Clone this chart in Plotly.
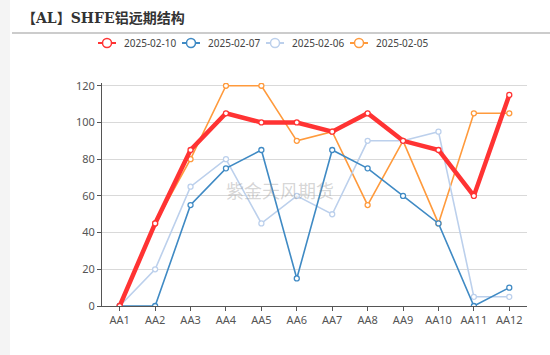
import plotly.graph_objects as go

categories = ["AA1", "AA2", "AA3", "AA4", "AA5", "AA6", "AA7", "AA8", "AA9", "AA10", "AA11", "AA12"]
s_0210 = [0, 45, 85, 105, 100, 100, 95, 105, 90, 85, 60, 115]
s_0207 = [0, 0, 55, 75, 85, 15, 85, 75, 60, 45, 0, 10]
s_0206 = [0, 20, 65, 80, 45, 60, 50, 90, 90, 95, 5, 5]
s_0205 = [0, 45, 80, 120, 120, 90, 95, 55, 90, 45, 105, 105]
y_ticks = [0, 20, 40, 60, 80, 100, 120]

W, H = 550, 355
L, R, T, B = 102, 23, 83, 49
pw, ph = W - L - R, H - T - B

def px(x):
    return (x - L) / pw

def py(y):
    return (H - B - y) / ph

fig = go.Figure()
series = [
    ("2025-02-05", s_0205, "#ff9a3c", 1.6),
    ("2025-02-06", s_0206, "#bcd0ec", 1.6),
    ("2025-02-07", s_0207, "#3f8ac4", 1.6),
    ("2025-02-10", s_0210, "#ff3333", 4.5),
]
for name, vals, color, w in series:
    fig.add_trace(go.Scatter(
        x=categories, y=vals, name=name, mode="lines+markers",
        line=dict(color=color, width=w),
        marker=dict(symbol="circle", size=5, color="white",
                    line=dict(color=color, width=1.3)),
        showlegend=False,
    ))

shapes = [
    dict(type="rect", xref="paper", yref="paper", x0=px(0), x1=px(10), y0=py(H), y1=py(0),
         fillcolor="#f4f4f4", line=dict(width=0), layer="below"),
    dict(type="line", xref="paper", yref="paper", x0=px(12), x1=px(W), y0=py(33), y1=py(33),
         line=dict(color="#cccccc", width=2)),
]
annotations = [
    dict(text="<b>【AL】SHFE铝远期结构</b>", xref="paper", yref="paper",
         x=px(20), y=py(18), xanchor="left", yanchor="middle", showarrow=False,
         font=dict(family="DejaVu Serif, Noto Sans CJK SC", size=14, color="#333")),
    dict(text="紫金天风期货", xref="paper", yref="paper",
         x=px(280), y=py(190), xanchor="center", yanchor="middle", showarrow=False,
         font=dict(family="Noto Sans CJK SC", size=18, color="rgba(150,150,150,0.4)")),
]

# manual legend
leg_items = [("2025-02-10", "#ff3333", 98), ("2025-02-07", "#3f8ac4", 182),
             ("2025-02-06", "#bcd0ec", 266), ("2025-02-05", "#ff9a3c", 350)]
ly = 43
for name, color, x0 in leg_items:
    shapes.append(dict(type="line", xref="paper", yref="paper", x0=px(x0), x1=px(x0 + 18),
                       y0=py(ly), y1=py(ly), line=dict(color=color, width=2)))
    r = 4.5
    shapes.append(dict(type="circle", xref="paper", yref="paper",
                       x0=px(x0 + 9 - r), x1=px(x0 + 9 + r), y0=py(ly + r), y1=py(ly - r),
                       fillcolor="white", line=dict(color=color, width=1.5)))
    annotations.append(dict(text=name, xref="paper", yref="paper", x=px(x0 + 24), y=py(ly),
                            xanchor="left", yanchor="middle", showarrow=False,
                            font=dict(family="Noto Sans", size=10, color="#444")))

fig.update_layout(
    width=W, height=H,
    margin=dict(l=L, r=R, t=T, b=B),
    paper_bgcolor="white", plot_bgcolor="white",
    showlegend=False,
    font=dict(family="Noto Sans", size=11, color="#555"),
    xaxis=dict(type="category", range=[-0.5, 11.5], showline=True, linecolor="#555",
               linewidth=1, ticks="outside", ticklen=4, tickcolor="#555",
               showgrid=False, tickfont=dict(size=11, color="#555"), fixedrange=True),
    yaxis=dict(range=[0, 121.5], tickvals=y_ticks, showline=True, linecolor="#555",
               linewidth=1, ticks="outside", ticklen=4, tickcolor="#555",
               showgrid=True, gridcolor="#d9d9d9", zeroline=False,
               tickfont=dict(size=11, color="#555")),
    shapes=shapes,
    annotations=annotations,
)

fig.write_html("out.html", config={"displayModeBar": False},
               post_script="document.body.style.margin='0';document.body.style.padding='0';")
